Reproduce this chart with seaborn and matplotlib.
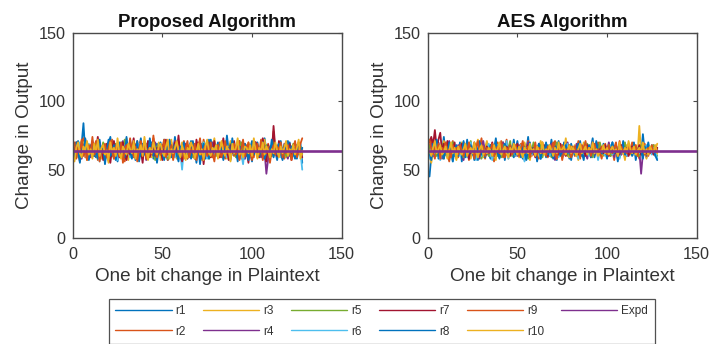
import numpy as np
import pandas as pd
import matplotlib
matplotlib.use("Agg")
import matplotlib.pyplot as plt
import seaborn as sns

# ---------------- data ----------------
run_names = ["r1", "r2", "r3", "r4", "r5", "r6", "r7", "r8", "r9", "r10"]
panel_titles = ["Proposed Algorithm", "AES Algorithm"]
expd_value = 64
expd_x = [0, 150]
x_ticks = [0, 50, 100, 150]
y_ticks = [0, 50, 100, 150]

p1 = [60,66,71,63,69,84,62,58,67,64,70,61,59,66,72,63,
      65,58,62,69,74,60,63,67,56,64,70,62,66,59,63,71,
      64,68,57,62,66,73,61,65,59,67,63,70,58,64,69,62,
      66,60,72,63,57,65,68,61,74,64,59,66,62,70,63,58,
      67,71,60,64,55,66,62,69,63,58,65,72,61,67,60,64,
      70,59,63,66,61,75,64,57,68,62,65,60,71,63,66,58,
      64,69,62,56,67,63,70,61,65,59,73,64,62,66,60,68,
      63,57,65,71,62,64,59,67,70,61,63,66,58,64,69,55]
p2 = [58,70,64,61,67,73,59,65,62,68,60,66,71,57,64,63,
      69,61,66,58,63,72,65,60,67,62,64,70,56,66,61,68,
      63,59,65,71,62,67,60,64,69,58,66,62,73,61,65,63,
      60,68,62,66,57,64,70,63,61,67,59,65,62,71,64,58,
      66,62,69,60,64,67,58,63,72,65,61,68,64,59,66,62,
      63,70,61,65,58,66,64,69,62,60,67,63,71,58,65,64,
      68,61,63,66,59,70,64,62,67,57,65,63,69,61,66,78,
      62,65,60,67,64,58,69,63,66,61,64,70,59,65,62,66]
p3 = [62,65,59,68,61,70,64,57,66,63,69,60,65,71,62,58,
      64,67,61,55,66,63,70,62,65,59,68,64,61,73,57,66,
      63,60,69,64,58,66,62,71,65,61,67,59,64,68,62,70,
      57,65,63,69,61,66,72,60,64,58,67,63,70,62,65,59,
      68,64,61,66,60,70,63,57,65,69,62,64,59,67,73,61,
      66,62,68,60,64,58,65,71,63,66,61,69,62,64,57,67,
      63,70,60,65,62,68,59,64,66,61,72,63,58,67,64,60,
      65,62,69,64,61,66,59,70,63,67,60,64,68,62,65,61]
p4 = [66,61,67,63,58,65,70,62,64,59,68,63,66,60,69,64,
      62,57,65,70,63,61,66,59,68,64,62,71,60,65,63,67,
      59,64,68,62,66,60,63,69,57,65,62,67,64,70,61,66,
      63,68,60,65,62,59,67,64,71,61,66,63,58,64,69,62,
      65,60,67,63,69,62,64,58,66,61,68,64,63,70,60,65,
      62,67,63,59,66,64,61,68,63,65,60,67,62,64,69,58,
      66,63,61,67,64,70,62,65,59,66,63,47,58,64,68,62,
      67,61,64,66,60,69,63,58,65,62,67,64,61,66,63,65]
p5 = [63,68,60,65,71,62,66,59,64,67,61,69,63,58,66,62,
      70,64,60,67,62,65,58,69,63,66,61,64,72,60,65,63,
      67,62,65,59,64,70,61,66,63,68,60,65,62,57,67,64,
      61,66,63,70,58,65,62,67,64,60,69,63,66,61,64,68,
      62,67,59,65,63,68,61,64,70,62,66,58,65,63,67,60,
      65,61,68,63,66,60,64,69,62,65,59,67,63,70,61,64,
      60,66,64,62,69,63,67,59,64,61,66,68,63,65,60,71,
      64,67,61,65,63,68,60,66,62,64,69,61,65,63,67,62]
p6 = [65,59,63,70,61,66,64,58,69,62,65,60,67,63,56,66,
      61,68,64,59,65,62,70,63,57,66,64,61,68,62,65,59,
      63,67,60,64,69,62,58,65,63,71,60,66,62,64,59,67,
      64,61,66,63,60,68,65,62,59,64,67,63,50,66,61,65,
      62,68,63,59,65,61,67,64,70,62,58,66,63,65,60,68,
      61,64,69,62,66,59,63,65,61,68,64,60,66,62,54,67,
      65,62,60,68,63,66,61,64,69,62,65,58,67,63,61,66,
      64,68,62,59,65,63,67,61,64,66,60,69,62,65,63,50]
p7 = [61,70,64,56,66,62,72,63,58,67,68,60,64,74,61,66,
      57,63,69,64,55,66,71,62,68,59,65,70,62,57,67,61,
      65,73,62,58,66,64,55,69,63,71,59,68,64,60,66,62,
      68,57,65,72,61,66,63,59,70,63,75,61,56,62,68,64,
      60,69,63,58,72,65,61,67,54,66,63,70,59,64,71,62,
      66,59,64,73,60,65,57,68,62,71,63,58,67,64,61,69,
      63,55,68,65,62,70,64,59,67,73,61,56,68,64,61,82,
      65,60,71,63,58,67,64,62,69,57,65,66,62,70,63,59]
p8 = [59,70,64,55,68,61,73,63,57,66,71,60,64,58,69,62,
      67,54,65,72,60,63,68,57,64,70,61,66,59,74,62,65,
      58,67,63,71,56,64,69,61,66,59,73,63,60,68,55,65,
      70,62,57,66,64,72,59,63,68,61,56,67,64,70,60,63,
      66,58,71,63,60,67,54,65,69,62,64,58,72,61,66,63,
      61,68,64,57,70,63,66,59,73,62,65,56,67,64,60,69,
      63,57,66,71,61,65,68,60,64,70,58,63,67,62,72,59,
      65,61,69,63,57,66,64,71,60,67,62,58,68,64,61,66]
p9 = [70,58,66,63,72,60,65,57,68,62,74,61,64,67,56,65,
      62,69,59,66,71,63,58,67,64,60,70,55,65,68,62,73,
      64,60,67,56,65,71,62,69,58,64,66,61,75,63,59,67,
      61,66,72,59,64,62,68,57,65,70,63,60,67,58,66,71,
      59,65,62,69,57,66,73,61,64,68,60,63,70,62,56,67,
      68,63,59,66,71,62,65,58,64,69,61,67,57,65,72,60,
      64,70,62,57,66,63,69,61,72,59,65,62,67,55,64,68,
      61,67,64,70,59,65,62,68,63,57,66,71,60,64,69,73]
p10 = [56,66,70,62,59,67,64,71,61,65,58,69,63,72,60,66,
       68,61,64,57,70,63,66,60,73,62,58,67,64,61,69,65,
       62,71,58,65,63,68,60,74,64,57,66,62,70,65,61,67,
       69,63,60,67,72,58,65,62,66,71,64,59,68,63,57,66,
       64,70,66,58,63,69,61,65,57,67,72,62,60,66,64,68,
       58,65,71,63,60,67,64,56,69,62,66,73,61,64,59,67,
       66,62,68,60,73,64,58,66,63,70,61,67,64,59,65,62,
       70,64,59,67,62,66,71,60,65,63,68,61,66,72,58,64]

a1 = [45,60,68,63,71,58,66,62,74,61,65,57,69,64,60,67,
      62,70,56,65,63,72,59,66,61,68,64,57,71,63,60,66,
      69,62,58,67,64,73,60,65,61,70,57,66,63,68,62,59,
      64,71,61,66,58,69,63,74,60,65,62,67,56,64,70,61,
      66,59,68,63,72,61,65,57,67,64,60,70,62,66,58,69,
      63,67,60,65,71,62,57,68,64,61,66,73,59,65,62,67,
      61,69,64,58,66,63,70,60,67,56,65,62,71,64,60,68,
      65,62,70,57,64,67,61,76,63,59,66,62,68,64,60,65]
a2 = [66,72,63,58,70,65,61,67,60,68,63,56,66,71,62,64,
      59,67,63,70,61,65,57,68,64,62,69,60,66,73,63,58,
      65,61,68,63,56,66,70,62,64,59,67,72,61,65,63,68,
      60,66,62,69,64,57,65,71,63,60,68,62,66,58,64,70,
      63,68,59,65,62,67,71,60,64,66,57,63,69,61,65,62,
      67,60,64,71,58,66,63,68,61,65,59,67,64,62,70,63,
      58,65,69,62,66,60,64,57,68,63,71,61,65,59,66,62,
      64,70,61,67,63,58,66,62,69,64,60,65,63,68,61,66]
a3 = [60,55,64,69,62,67,59,65,71,63,58,66,61,68,64,57,
      65,62,70,60,66,63,68,58,64,61,67,72,62,65,59,66,
      71,64,60,66,62,57,68,63,65,70,61,64,58,67,63,69,
      62,65,59,67,63,70,61,66,57,64,68,62,65,60,71,63,
      66,61,64,68,60,63,65,58,70,62,66,64,73,61,59,67,
      64,68,62,57,66,63,70,61,65,68,60,64,62,67,58,65,
      63,60,67,64,69,61,65,59,66,63,70,62,64,57,68,62,
      61,66,63,68,60,82,62,70,64,58,66,63,67,61,65,69]
a4 = [63,69,60,66,62,70,64,58,67,61,65,71,63,59,66,62,
      68,61,64,57,66,63,69,62,65,60,67,64,58,66,71,63,
      61,66,63,69,60,65,62,68,64,70,59,63,66,61,67,62,
      65,60,68,63,66,59,64,70,62,65,61,67,63,69,58,64,
      62,67,64,60,69,63,57,66,62,68,64,61,65,70,63,59,
      66,62,69,64,60,65,67,62,58,66,63,70,61,64,68,63,
      65,61,66,63,70,62,64,59,67,63,65,61,68,64,60,66,
      63,67,62,65,61,64,47,62,66,60,68,63,65,62,67,64]
a5 = [68,62,65,71,60,66,63,69,58,64,67,61,65,70,62,66,
      61,67,64,59,68,62,65,71,63,60,66,64,69,58,65,62,
      66,60,64,69,63,67,61,65,59,68,64,62,66,71,60,64,
      63,68,61,65,62,67,64,58,66,63,70,61,65,62,68,59,
      65,62,67,64,59,66,63,70,61,65,68,62,64,60,66,63,
      62,66,60,68,64,61,65,63,69,62,66,59,67,64,62,70,
      64,61,66,63,68,60,65,62,67,64,59,66,63,70,61,65,
      66,63,62,67,64,60,68,63,65,61,66,64,62,68,63,60]
a6 = [58,66,61,64,70,63,57,65,62,68,60,66,64,56,67,63,
      65,60,68,62,66,59,64,70,61,65,57,67,63,60,66,62,
      64,69,62,57,65,63,68,60,66,62,64,71,58,65,61,67,
      60,65,63,68,62,56,66,64,69,61,65,60,67,63,58,66,
      67,62,65,60,64,68,62,66,59,63,67,61,65,69,62,64,
      61,66,63,58,67,62,65,70,63,60,66,64,62,67,57,65,
      66,63,60,65,62,68,61,64,67,62,58,66,63,65,60,67,
      63,65,61,67,64,62,66,60,65,68,62,64,61,66,63,58]
a7 = [70,74,68,79,66,72,77,63,69,65,71,62,67,64,70,60,
      66,63,69,61,67,64,58,66,62,70,63,65,60,68,64,61,
      67,62,65,70,61,66,63,59,68,64,62,67,65,60,66,63,
      64,69,62,66,60,65,63,68,61,66,64,59,67,63,65,62,
      68,63,60,66,64,62,67,65,61,69,63,66,60,64,68,62,
      63,66,64,61,67,62,65,60,68,63,66,64,62,67,61,65,
      66,62,68,63,60,66,64,67,62,65,61,68,63,64,66,60,
      64,67,62,65,63,68,61,64,66,62,67,63,65,61,64,66]
a8 = [62,57,69,64,72,60,66,63,58,67,61,70,64,56,65,68,
      60,66,63,71,59,65,62,68,64,57,67,63,70,61,66,59,
      65,62,68,60,64,71,63,58,66,62,69,64,60,67,63,72,
      61,66,64,59,68,63,57,65,70,62,66,61,64,69,58,65,
      63,70,61,66,62,58,67,64,71,60,65,63,68,62,66,57,
      66,61,65,69,63,60,64,67,62,68,59,65,63,71,61,64,
      62,67,63,60,66,64,70,62,65,58,67,63,69,61,64,66,
      65,60,68,63,61,66,64,58,67,63,70,62,65,64,60,57]
a9 = [72,65,61,67,63,69,58,66,64,70,62,65,59,68,63,66,
      61,68,64,60,67,62,70,63,65,58,66,71,62,64,67,60,
      66,62,65,69,60,64,67,62,71,63,59,66,64,68,61,65,
      68,63,60,66,71,62,64,67,59,65,63,70,61,66,64,62,
      64,60,67,63,65,70,62,58,66,64,68,61,65,63,67,59,
      63,67,62,65,59,68,64,71,62,66,60,64,69,63,65,61,
      67,63,65,61,68,64,62,66,70,60,64,67,63,65,62,69,
      62,66,64,68,60,65,63,67,61,64,66,62,68,63,65,64]
a10 = [64,60,66,71,62,65,68,61,63,67,60,64,70,62,66,58,
       67,63,61,65,69,60,64,66,62,70,63,59,65,68,61,64,
       62,66,64,60,68,63,65,70,61,64,67,62,59,66,63,69,
       65,61,67,63,59,66,64,62,69,63,65,60,67,64,62,70,
       61,65,63,68,64,60,66,62,70,63,65,67,61,64,68,62,
       66,63,60,65,69,62,64,67,61,66,63,70,62,65,60,64,
       63,68,62,66,61,64,67,63,65,60,68,64,62,66,63,71,
       65,62,67,61,64,66,63,69,62,65,61,67,64,63,68,62]

proposed_runs = [p1, p2, p3, p4, p5, p6, p7, p8, p9, p10]
aes_runs = [a1, a2, a3, a4, a5, a6, a7, a8, a9, a10]

# ---------------- style ----------------
run_colors = ["#0072BD", "#D95319", "#EDB120", "#7E2F8E", "#77AC30",
              "#4DBEEE", "#A2142F", "#0072BD", "#D95319", "#EDB120"]
expd_color = "#7E2F8E"
edge = "#4a4a4a"
txt = "#333333"

sns.set_theme(style="white")
plt.rcParams["font.family"] = ["Liberation Sans", "DejaVu Sans"]
plt.rcParams["axes.edgecolor"] = edge
plt.rcParams["axes.linewidth"] = 1.0

fig = plt.figure(figsize=(7.12, 3.44), dpi=100)
W, H = 712, 344
axes_px = [(72.7, 33, 269, 205), (427.7, 33, 269, 205)]
axs = [fig.add_axes([l / W, 1 - (t + h) / H, w / W, h / H]) for (l, t, w, h) in axes_px]


def long_frame(runs):
    rows = []
    for name, vals in zip(run_names, runs):
        for i, v in enumerate(vals):
            rows.append((name, i + 1, v))
    return pd.DataFrame(rows, columns=["run", "bit", "change"])


for ax, title, runs in zip(axs, panel_titles, [proposed_runs, aes_runs]):
    df = long_frame(runs)
    for name, col in zip(run_names, run_colors):
        sub = df[df["run"] == name]
        sns.lineplot(data=sub, x="bit", y="change", ax=ax, color=col,
                     linewidth=1.3, legend=False, label=name)
    ex = pd.DataFrame({"bit": expd_x, "change": [expd_value] * len(expd_x)})
    sns.lineplot(data=ex, x="bit", y="change", ax=ax, color=expd_color,
                 linewidth=1.9, legend=False, label="Expd")
    if ax.get_legend() is not None:
        ax.get_legend().remove()
    ax.set_xlim(0, 150)
    ax.set_ylim(0, 150)
    ax.set_xticks(x_ticks)
    ax.set_yticks(y_ticks)
    ax.tick_params(direction="in", length=3, width=0.8, colors=edge,
                   labelcolor=txt, labelsize=11.7, top=True, right=True)
    ax.tick_params(axis="x", pad=6.5)
    ax.tick_params(axis="y", pad=5)
    ax.set_xlabel("One bit change in Plaintext", fontsize=13.6, color=txt, labelpad=4)
    ax.set_ylabel("Change in Output", fontsize=13.6, color=txt, labelpad=4)
    ax.set_title(title, fontsize=13.4, fontweight="bold", color="#111111", pad=4)
    for s in ax.spines.values():
        s.set_visible(True)
        s.set_color(edge)

handles = axs[0].get_lines()[:11]
labels = run_names + ["Expd"]
leg = fig.legend(handles, labels, ncol=6, loc="upper left",
                 bbox_to_anchor=(109 / W, 1 - 299 / H), fontsize=8.5,
                 frameon=True, fancybox=False, edgecolor="#262626",
                 handlelength=4.75, columnspacing=1.45, handletextpad=0.35,
                 labelspacing=0.68, borderpad=0.55, borderaxespad=0)
leg.get_frame().set_linewidth(0.9)
for t in leg.get_texts():
    t.set_color(txt)
for h in leg.get_lines():
    h.set_linewidth(1.0)

fig.savefig("out.png", dpi=100, facecolor="white")
